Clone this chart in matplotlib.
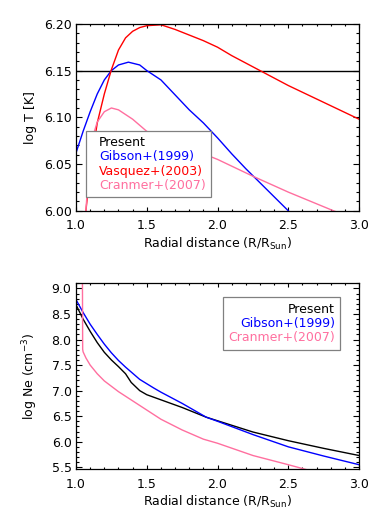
import numpy as np
import matplotlib
matplotlib.use("Agg")
import matplotlib.pyplot as plt
from matplotlib.ticker import MultipleLocator

plt.rcParams['font.family'] = ['DejaVu Sans']
plt.rcParams['mathtext.default'] = 'regular'

# --- top panel: log T ---
r_present_T = [1.0, 3.0]
present_T = [6.15, 6.15]

r_gibson_T = [1.0, 1.05, 1.1, 1.15, 1.2, 1.25, 1.3, 1.37, 1.45, 1.5, 1.6, 1.7,
              1.8, 1.9, 2.0, 2.1, 2.2, 2.3, 2.4, 2.5, 2.6]
gibson_T = [6.062, 6.085, 6.106, 6.125, 6.140, 6.150, 6.156, 6.159, 6.156, 6.150,
            6.140, 6.124, 6.108, 6.094, 6.078, 6.061, 6.045, 6.030, 6.015, 6.000, 5.985]

r_vasquez_T = [1.06, 1.07, 1.1, 1.15, 1.2, 1.25, 1.3, 1.35, 1.4, 1.45, 1.5, 1.6,
               1.7, 1.8, 1.9, 2.0, 2.1, 2.2, 2.3, 2.4, 2.5, 2.75, 3.0]
vasquez_T = [5.985, 6.000, 6.045, 6.094, 6.125, 6.151, 6.172, 6.185, 6.192, 6.196,
             6.198, 6.199, 6.194, 6.188, 6.182, 6.175, 6.166, 6.158, 6.150, 6.142,
             6.134, 6.116, 6.098]

r_cranmer_T = [1.06, 1.07, 1.1, 1.15, 1.2, 1.25, 1.3, 1.4, 1.5, 1.75, 2.0, 2.25,
               2.5, 2.82, 3.0]
cranmer_T = [5.98, 6.000, 6.070, 6.095, 6.106, 6.110, 6.108, 6.098, 6.085, 6.070,
             6.055, 6.037, 6.020, 6.000, 5.990]

# --- bottom panel: log Ne ---
r_present_ne = [1.0, 1.05, 1.1, 1.15, 1.2, 1.25, 1.3, 1.35, 1.39, 1.45, 1.5, 1.6,
                1.75, 1.92, 2.0, 2.25, 2.5, 2.75, 3.0]
present_ne = [8.68, 8.40, 8.16, 7.94, 7.75, 7.60, 7.47, 7.33, 7.16, 7.00, 6.92,
              6.82, 6.67, 6.48, 6.41, 6.19, 6.02, 5.87, 5.73]

r_gibson_ne = [1.0, 1.05, 1.1, 1.15, 1.2, 1.25, 1.3, 1.35, 1.45, 1.55, 1.6, 1.75,
               1.92, 2.0, 2.25, 2.5, 2.75, 3.0]
gibson_ne = [8.78, 8.53, 8.30, 8.10, 7.91, 7.74, 7.59, 7.46, 7.22, 7.05, 6.97,
             6.75, 6.48, 6.40, 6.14, 5.90, 5.72, 5.55]

r_cranmer_ne = [1.045, 1.047, 1.05, 1.07, 1.1, 1.15, 1.2, 1.3, 1.4, 1.5, 1.6, 1.75,
                1.9, 2.0, 2.25, 2.5, 2.7]
cranmer_ne = [9.5, 7.81, 7.76, 7.64, 7.50, 7.33, 7.19, 6.98, 6.80, 6.62, 6.44,
              6.23, 6.05, 5.97, 5.73, 5.55, 5.40]

pink = '#ff6f9f'
fs = 9

fig = plt.figure(figsize=(3.82, 5.18), dpi=100)
ax1 = fig.add_axes([0.199, 0.593, 0.741, 0.361])
ax2 = fig.add_axes([0.199, 0.094, 0.741, 0.359])


def style(ax):
    ax.xaxis.set_major_locator(MultipleLocator(0.5))
    ax.xaxis.set_minor_locator(MultipleLocator(0.1))
    ax.tick_params(which='both', direction='in', top=True, right=True, labelsize=fs)
    ax.tick_params(axis='x', which='major', length=3.0, width=0.8, pad=6)
    ax.tick_params(axis='x', which='minor', length=1.6, width=0.8)
    ax.tick_params(axis='y', which='major', length=4.5, width=0.8, pad=3.2)
    ax.tick_params(axis='y', which='minor', length=2.3, width=0.8)
    ax.set_xlim(1.0, 3.0)
    ax.xaxis.set_major_formatter(matplotlib.ticker.FormatStrFormatter('%.1f'))
    ax.set_xlabel('Radial distance (R/R$_{Sun}$)', fontsize=fs, labelpad=2.5)
    for s in ax.spines.values():
        s.set_linewidth(0.9)


def text_legend(ax, hl, **kw):
    leg = ax.legend(borderaxespad=0, handlelength=hl, handletextpad=0,
                    labelcolor='linecolor', fancybox=False, edgecolor='#808080',
                    framealpha=1, fontsize=fs, labelspacing=0.1, borderpad=0.44, **kw)
    leg.get_frame().set_linewidth(0.9)
    for h in leg.legend_handles:
        h.set_visible(False)
    return leg


lw = 1.0
ax1.plot(r_present_T, present_T, color='black', lw=lw, label='Present')
ax1.plot(r_gibson_T, gibson_T, color='blue', lw=lw, label='Gibson+(1999)')
ax1.plot(r_vasquez_T, vasquez_T, color='red', lw=lw, label='Vasquez+(2003)')
ax1.plot(r_cranmer_T, cranmer_T, color=pink, lw=lw, label='Cranmer+(2007)')
style(ax1)
ax1.set_ylim(6.0, 6.2)
ax1.yaxis.set_major_locator(MultipleLocator(0.05))
ax1.yaxis.set_minor_locator(MultipleLocator(0.01))
ax1.yaxis.set_major_formatter(matplotlib.ticker.FormatStrFormatter('%.2f'))
ax1.set_ylabel('log T [K]', fontsize=fs, labelpad=5)
text_legend(ax1, 0.6, loc='upper left', bbox_to_anchor=(0.035, 0.429))

ax2.plot(r_present_ne, present_ne, color='black', lw=lw, label='Present')
ax2.plot(r_gibson_ne, gibson_ne, color='blue', lw=lw, label='Gibson+(1999)')
ax2.plot(r_cranmer_ne, cranmer_ne, color=pink, lw=lw, label='Cranmer+(2007)')
style(ax2)
ax2.set_ylim(5.46, 9.1)
ax2.yaxis.set_major_locator(MultipleLocator(0.5))
ax2.yaxis.set_minor_locator(MultipleLocator(0.1))
ax2.yaxis.set_major_formatter(matplotlib.ticker.FormatStrFormatter('%.1f'))
ax2.set_ylabel('log Ne (cm$^{-3}$)', fontsize=fs, labelpad=8)
text_legend(ax2, 0, loc='upper right', bbox_to_anchor=(0.934, 0.926),
            alignment='right', markerfirst=False)

fig.savefig('out.png', dpi=100)
